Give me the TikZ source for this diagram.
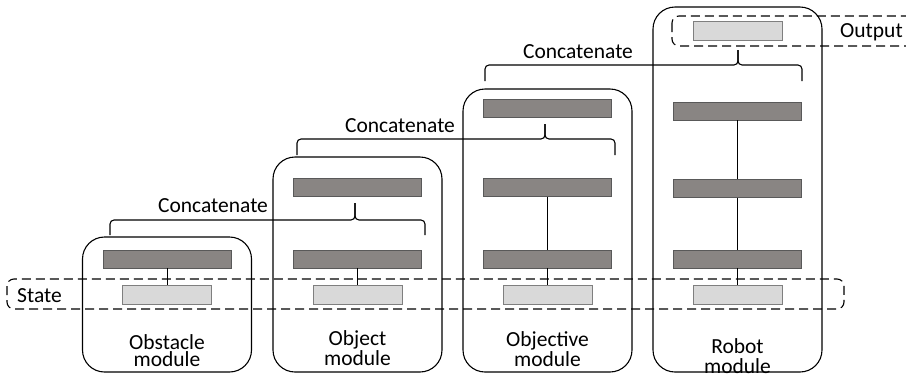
\documentclass[tikz,border=0pt]{standalone}
\usepackage{fontspec}
\setmainfont{Carlito}
\usepackage{tikz}
\usetikzlibrary{positioning,calc}

\definecolor{layerfill}{HTML}{898583}
\definecolor{layeredge}{HTML}{595959}
\definecolor{infill}{HTML}{D9D9D9}
\definecolor{inedge}{HTML}{7F7F7F}

\begin{document}
\begin{tikzpicture}[
    x=1pt, y=-1pt,
    font=\fontsize{21.5}{17}\selectfont,
    module/.style={rectangle, draw, line width=1.1pt, rounded corners=22pt, minimum width=169pt, inner sep=0pt},
    layer/.style={rectangle, draw=layeredge, fill=layerfill, line width=0.9pt, minimum width=128pt, minimum height=18pt, inner sep=0pt},
    inbar/.style={rectangle, draw=inedge, fill=infill, line width=0.9pt, minimum width=89pt, minimum height=19pt, inner sep=0pt},
    link/.style={line width=1pt},
    brace/.style={line width=1.1pt, rounded corners=4pt},
    group/.style={line width=1.1pt, dash pattern=on 9pt off 5pt, rounded corners=7pt},
    caption/.style={align=center, anchor=base}
]
    \clip (0,0) rectangle (906,373);

    % modules
    \node[module, minimum height=135pt] (obstacle) at (167,304.5) {};
    \node[module, minimum height=215pt] (object) at (357.5,264.5) {};
    \node[module, minimum height=283pt] (objective) at (547.5,230.5) {};
    \node[module, minimum height=365pt] (robot) at (737.5,189.5) {};

    \node[caption] (obstacletext) at (167,366) {Obstacle\\module};
    \node[caption] (objecttext) at (357.5,365) {Object\\module};
    \node[caption] (objectivetext) at (547.5,366) {Objective\\module};
    \node[caption] (robottext) at (737.5,373) {Robot\\[3pt]module};

    % layers
    \node[layer] (obsL1) at (167,259) {};
    \node[inbar] (obsIn) at (167,294.5) {};

    \node[layer] (objL2) at (357.5,187.5) {};
    \node[layer] (objL1) at (357.5,259) {};
    \node[inbar] (objIn) at (357.5,294.5) {};

    \node[layer] (goalL3) at (547.5,108.5) {};
    \node[layer] (goalL2) at (547.5,187.5) {};
    \node[layer] (goalL1) at (547.5,259) {};
    \node[inbar] (goalIn) at (547.5,294.5) {};

    \node[inbar] (robOut) at (737.5,30.5) {};
    \node[layer] (robL3) at (737.5,111) {};
    \node[layer] (robL2) at (737.5,188.5) {};
    \node[layer] (robL1) at (737.5,259) {};
    \node[inbar] (robIn) at (737.5,294.5) {};

    \draw[link] (obsL1.south) -- (obsIn.north);
    \draw[link] (objL1.south) -- (objIn.north);
    \draw[link] (goalL2.south) -- (goalL1.north);
    \draw[link] (goalL1.south) -- (goalIn.north);
    \draw[link] (robL3.south) -- (robL2.north);
    \draw[link] (robL2.south) -- (robL1.north);
    \draw[link] (robL1.south) -- (robIn.north);

    % concatenate braces
    \coordinate (b1l) at (110,235);
    \coordinate (b1m) at (355,220);
    \coordinate (b1t) at (355,203);
    \coordinate (b1r) at (425,235);
    \coordinate (b2l) at (297,155);
    \coordinate (b2m) at (545,139);
    \coordinate (b2t) at (545,124);
    \coordinate (b2r) at (615,155);
    \coordinate (b3l) at (485,81);
    \coordinate (b3m) at (738,65);
    \coordinate (b3t) at (738,50);
    \coordinate (b3r) at (802,81);

    \draw[brace] (b1l) |- (b1m) -- (b1t);
    \draw[brace] (b1r) |- (b1m) -- (b1t);
    \draw[brace] (b2l) |- (b2m) -- (b2t);
    \draw[brace] (b2r) |- (b2m) -- (b2t);
    \draw[brace] (b3l) |- (b3m) -- (b3t);
    \draw[brace] (b3r) |- (b3m) -- (b3t);

    \node[anchor=base] (cat1) at (213,212) {Concatenate};
    \node[anchor=base] (cat2) at (400,132) {Concatenate};
    \node[anchor=base] (cat3) at (578,58) {Concatenate};

    % state and output groups
    \draw[group] (7,279) rectangle (844,309);
    \draw[group] (672,16) rectangle (930,46);
    \node[anchor=base west, inner sep=0pt] (state) at (17,302) {State};
    \node[anchor=base west, inner sep=0pt] (output) at (840,37) {Output};
\end{tikzpicture}
\end{document}
